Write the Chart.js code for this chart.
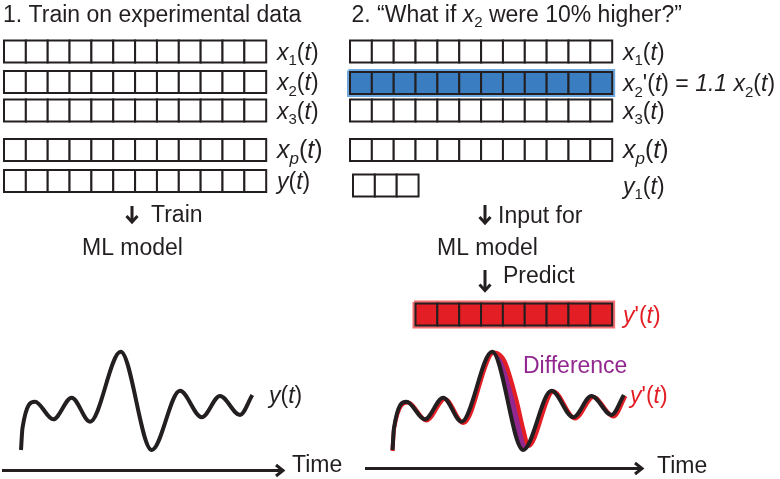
<!DOCTYPE html>
<html>
<head>
<meta charset="utf-8">
<script src="https://cdn.jsdelivr.net/npm/chart.js@4"></script>
<style>
  html, body { margin: 0; padding: 0; background: #fff; }
  #wrap { width: 780px; height: 479px; position: relative; }
</style>
</head>
<body>
<div id="wrap"><canvas id="diagram"></canvas></div>
<script>
// panel 1 table: row labels and how many time steps each row holds
const trainRows = ['*x*_1(*t*)', '*x*_2(*t*)', '*x*_3(*t*)', '*x_p*(*t*)', '*y*(*t*)'];
const trainCells = [12, 12, 12, 12, 12];

// panel 2 table
const whatIfRows = ['*x*_1(*t*)', "*x*_2'(*t*) = *1.1 x*_2(*t*)", '*x*_3(*t*)', '*x_p*(*t*)', '*y*_1(*t*)'];
const whatIfCells = [12, 12, 12, 12, 3];
const changedRow = 1;
const predictedCells = 9;
const predictedLabel = "*y*'(*t*)";

// response curves (time from the start of each curve, diagram units)
const timeObserved = [0, 1.5, 14, 32.3, 50.7, 69, 99.7, 130.7, 159, 180.7, 199, 219, 231.3];
const yObserved = [450, 428, 401.7, 419.3, 397.7, 421.7, 351.7, 450, 390.7, 417.3, 396, 415, 395];
const timePredicted = [0, 1.5, 15.5, 34, 52.5, 71, 101.5, 112, 124, 131, 136, 161, 182.7, 201, 221, 233];
const yPredicted = [451, 429, 402.5, 420.5, 399, 423, 352.5, 361, 400, 430, 446, 391.5, 418.5, 397, 416.5, 396];

const titles = ['1. Train on experimental data', '2. \u201CWhat if *x*_2 were 10% higher?\u201D'];
const captions = ['Train', 'ML model', 'Input for', 'ML model', 'Predict', 'Difference', '*y*(*t*)', "*y*'(*t*)", 'Time', 'Time'];

const INK = '#231f20';
const BLUE = '#3a7dc0';
const BLUE_EDGE = '#6ea8de';
const RED = '#e31e24';
const RED_EDGE = '#f36c70';
const PURPLE = '#92278f';
const FONT = '"Liberation Sans", Arial, Helvetica, sans-serif';

// layout (diagram units == pixels)
const L = {
    cellW: 21.85,
    gridX: [4, 350],
    shortRowX: 353,
    rowY: [[51.5, 82, 110.5, 150, 181], [51.5, 83, 110.5, 150, 185.5]],
    labelX: [277, 623],
    predictX: 415.5,
    predictY: 314.5,
    curveX: [21, 392.5],
    axes: [{x0: 2, x1: 283, y: 470.5}, {x0: 365, x1: 642, y: 468.5}],
    downArrows: [{x: 132, top: 206, tip: 223}, {x: 485, top: 205, tip: 224}, {x: 485, top: 270, tip: 291.5}],
    titlePos: [{x: 3, y: 21.5}, {x: 351.5, y: 21.5}],
    captionPos: [
        {x: 151, y: 222, color: INK},
        {x: 82, y: 254.5, color: INK},
        {x: 498, y: 223, color: INK},
        {x: 437, y: 254.5, color: INK},
        {x: 503, y: 282.5, color: INK},
        {x: 523, y: 372.5, color: PURPLE},
        {x: 269, y: 403, color: INK},
        {x: 630, y: 403, color: RED},
        {x: 292, y: 472, color: INK},
        {x: 657, y: 472.5, color: INK},
    ],
    fontSize: 23,
};

function cellRow(x0, y, n) {
    return Array.from({length: n}, (_, i) => ({x: x0 + (i + 0.5) * L.cellW, y: y}));
}

function outline(x0, y, n, pad) {
    const x1 = x0 + n * L.cellW, h = L.cellW / 2;
    return [
        {x: x0 - pad, y: y - h - pad}, {x: x1 + pad, y: y - h - pad},
        {x: x1 + pad, y: y + h + pad}, {x: x0 - pad, y: y + h + pad}, {x: x0 - pad, y: y - h - pad}
    ];
}

function curve(ts, ys, x0) {
    return ts.map((t, i) => ({x: x0 + t, y: ys[i]}));
}

const cellSet = (data, fill, order) => ({
    type: 'scatter', data: data, order: order,
    pointStyle: 'rect', pointRadius: L.cellW / Math.SQRT2,
    pointBackgroundColor: fill, pointBorderColor: INK, pointBorderWidth: 2,
});

const lineSet = (data, color, width, order, extra) => Object.assign({
    type: 'scatter', data: data, order: order, showLine: true,
    borderColor: color, borderWidth: width, pointRadius: 0, fill: false,
}, extra || {});

const datasets = [];

// curves
datasets.push(lineSet(curve(timeObserved, yObserved, L.curveX[0]), INK, 4, 2, {cubicInterpolationMode: 'monotone'}));
const blackRight = datasets.length;
datasets.push(lineSet(curve(timeObserved, yObserved, L.curveX[1]), INK, 4, 2, {cubicInterpolationMode: 'monotone'}));
datasets.push(lineSet(curve(timePredicted, yPredicted, L.curveX[1]), RED, 4, 3, {
    cubicInterpolationMode: 'monotone',
    fill: {target: blackRight, above: PURPLE, below: PURPLE},
}));

// time axes with arrowheads
L.axes.forEach(a => {
    datasets.push(lineSet([{x: a.x0, y: a.y}, {x: a.x1 - 1, y: a.y}], INK, 3, 1));
    datasets.push(lineSet([{x: a.x1 - 7, y: a.y - 5.5}, {x: a.x1, y: a.y}, {x: a.x1 - 7, y: a.y + 5.5}], INK, 3, 1, {borderJoinStyle: 'miter'}));
});

// down arrows between the steps
L.downArrows.forEach(a => {
    datasets.push(lineSet([{x: a.x, y: a.top}, {x: a.x, y: a.tip - 1.5}], INK, 3, 1));
    datasets.push(lineSet([{x: a.x - 5.5, y: a.tip - 7}, {x: a.x, y: a.tip - 1}, {x: a.x + 5.5, y: a.tip - 7}], INK, 3, 1, {borderJoinStyle: 'miter'}));
});

// panel 1 cells
let cells = [];
trainCells.forEach((n, r) => { cells = cells.concat(cellRow(L.gridX[0], L.rowY[0][r], n)); });
datasets.push(cellSet(cells, '#ffffff', 4));

// panel 2 cells
cells = [];
whatIfCells.forEach((n, r) => {
    if (r === changedRow) return;
    const x0 = n < 12 ? L.shortRowX : L.gridX[1];
    cells = cells.concat(cellRow(x0, L.rowY[1][r], n));
});
datasets.push(cellSet(cells, '#ffffff', 4));

datasets.push(lineSet(outline(L.gridX[1], L.rowY[1][changedRow], whatIfCells[changedRow], 1.5), BLUE_EDGE, 3, 5));
datasets.push(cellSet(cellRow(L.gridX[1], L.rowY[1][changedRow], whatIfCells[changedRow]), BLUE, 4));

datasets.push(lineSet(outline(L.predictX, L.predictY, predictedCells, 1.5), RED_EDGE, 3, 5));
datasets.push(cellSet(cellRow(L.predictX, L.predictY, predictedCells), RED, 4));

// tiny markup: *...* italic, _c subscript
function runs(markup) {
    const out = [];
    let italic = false;
    for (let i = 0; i < markup.length; i++) {
        let c = markup[i], sub = false;
        if (c === '*') { italic = !italic; continue; }
        if (c === '_') { sub = true; c = markup[++i]; }
        const last = out[out.length - 1];
        if (last && last.italic === italic && last.sub === sub && !sub) last.text += c;
        else out.push({text: c, italic: italic, sub: sub});
    }
    return out;
}

function drawRich(ctx, markup, px, py, size, color) {
    const parts = runs(markup);
    const fontFor = p => (p.italic ? 'italic ' : '') + (p.sub ? Math.round(size * 0.66) : size) + 'px ' + FONT;
    ctx.fillStyle = color;
    ctx.textAlign = 'left';
    ctx.textBaseline = 'alphabetic';
    let cx = px;
    parts.forEach(p => {
        ctx.font = fontFor(p);
        ctx.fillText(p.text, cx, py + (p.sub ? size * 0.24 : 0));
        cx += ctx.measureText(p.text).width;
    });
}

const textPlugin = {
    id: 'diagramText',
    afterDatasetsDraw(chart) {
        const {ctx, scales: {x, y}} = chart;
        const X = v => x.getPixelForValue(v), Y = v => y.getPixelForValue(v);
        const s = L.fontSize;
        ctx.save();
        titles.forEach((t, i) => drawRich(ctx, t, X(L.titlePos[i].x), Y(L.titlePos[i].y), s, INK));
        trainRows.forEach((t, r) => drawRich(ctx, t, X(L.labelX[0]), Y(L.rowY[0][r] + 8), r === 3 ? s + 2 : s, INK));
        whatIfRows.forEach((t, r) => drawRich(ctx, t, X(L.labelX[1]), Y(L.rowY[1][r] + 8), r === 3 ? s + 2 : s, INK));
        drawRich(ctx, predictedLabel, X(L.labelX[1]), Y(L.predictY + 8.5), s, RED);
        captions.forEach((t, i) => {
            const p = L.captionPos[i];
            drawRich(ctx, t, X(p.x), Y(p.y), s, p.color);
        });
        ctx.restore();
    }
};

new Chart(document.getElementById('diagram'), {
    type: 'scatter',
    data: {datasets: datasets},
    options: {
        responsive: true,
        maintainAspectRatio: false,
        animation: false,
        events: [],
        layout: {padding: 0, autoPadding: false},
        plugins: {legend: {display: false}, tooltip: {enabled: false}},
        scales: {
            x: {type: 'linear', min: 0, max: 780, display: false},
            y: {type: 'linear', min: 0, max: 479, reverse: true, display: false},
        },
    },
    plugins: [textPlugin],
});
</script>
</body>
</html>
